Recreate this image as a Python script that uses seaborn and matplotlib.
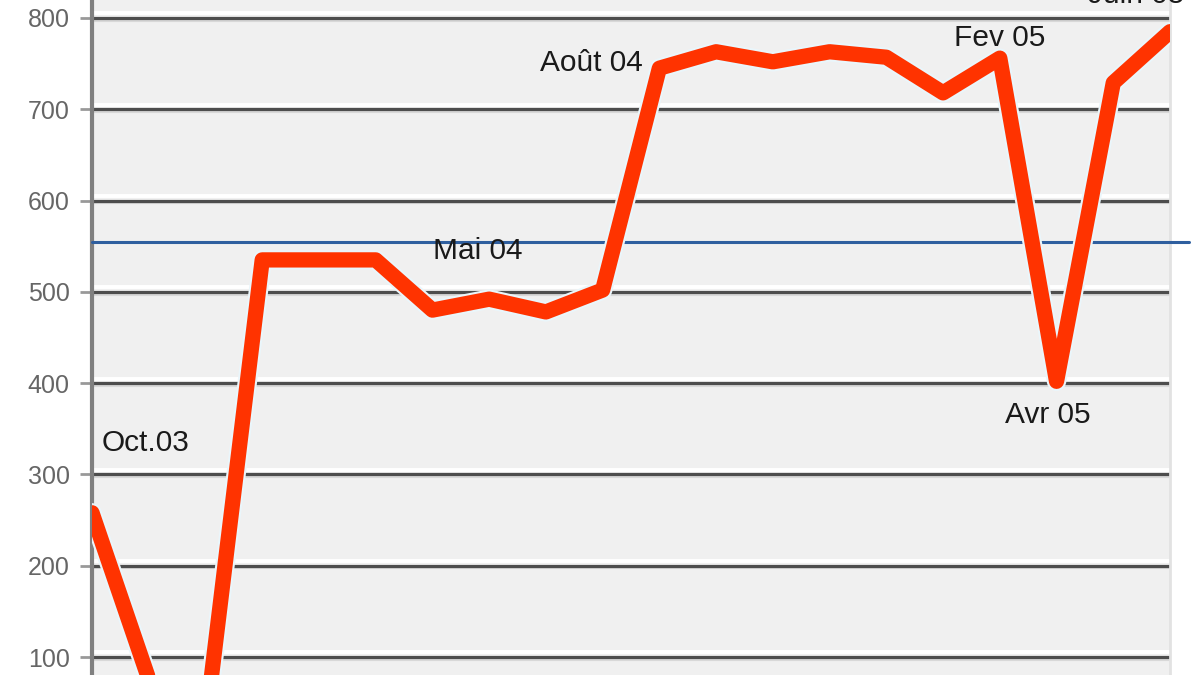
from matplotlib import pyplot as plt
import matplotlib.patheffects as pe
import seaborn as sns
import numpy as np
import pandas as pd

# monthly values, Oct.03 .. Juin 05 (Mars 05 missing in the source)
months = ['Oct.03', 'Nov 03', 'Dec 03', 'Jan 04', 'Fev 04', 'Mar 04', 'Avr 04', 'Mai 04', 'Juin 04',
          'Juil 04', 'Août 04', 'Sep 04', 'Oct 04', 'Nov 04', 'Dec 04', 'Jan 05', 'Fev 05', 'Avr 05',
          'Mai 05', 'Juin 05']
values = [258, 76, 25, 535, 535, 535, 480, 492, 478, 502, 745, 763, 752, 763, 757, 718, 756, 402, 729, 785]
average = 555
yticks = [100, 200, 300, 400, 500, 600, 700, 800]

# labels written on the chart: text, month index, value level
labels = ['Oct.03', 'Mai 04', 'Août 04', 'Fev 05', 'Avr 05', 'Juin 05']
label_x = [0.95, 6.8, 8.8, 16.0, 16.85, 18.4]
label_y = [334, 545, 751, 778, 365, 825]

data = pd.DataFrame({'idx': np.arange(len(values)), 'value': values})

sns.set_style('white')
plt.rcParams['font.family'] = ['Liberation Sans', 'DejaVu Sans']

fig = plt.figure(figsize=(11.97, 6.75), dpi=100)
ax = fig.add_axes([92 / 1197, 0, (1170 - 92) / 1197, 1])
ax.set_facecolor('#f0f0f0')

for v in yticks:
    ax.axhline(v + 5, color='white', lw=2.8, zorder=1)
    ax.axhline(v - 3, color='#d8d8d8', lw=1.5, zorder=1)
    ax.axhline(v, color='#4d4d4d', lw=2.3, zorder=2)

ax.axhline(average, xmin=0, xmax=1.018, color='#2f5f9f', lw=2.2, zorder=3, clip_on=False)

sns.lineplot(x='idx', y='value', data=data, ax=ax, color='#ff3300', lw=11, zorder=4,
             path_effects=[pe.Stroke(linewidth=14, foreground='#eaf6fb'), pe.Normal()])

for t, x, y in zip(labels, label_x, label_y):
    ax.text(x, y, t, ha='center', va='center', fontsize=21.5, color='#1a1a1a', zorder=5, clip_on=False)

ax.set_xlim(0, len(values) - 1)
ax.set_ylim(80.3, 819.7)
ax.set_xticks([])
ax.set_yticks(yticks)
ax.set_yticklabels([str(v) for v in yticks], fontsize=18, color='#666666',
                   family=['Liberation Sans Narrow', 'Liberation Sans'])
ax.tick_params(axis='y', length=9, width=2, color='#999999', pad=7, left=True)
ax.set_xlabel('')
ax.set_ylabel('')

for s in ['top', 'bottom']:
    ax.spines[s].set_visible(False)
ax.spines['left'].set_color('#808080')
ax.spines['left'].set_linewidth(3)
ax.spines['right'].set_color('#e2e2e2')
ax.spines['right'].set_linewidth(2)

fig.savefig('out.png', dpi=100)
